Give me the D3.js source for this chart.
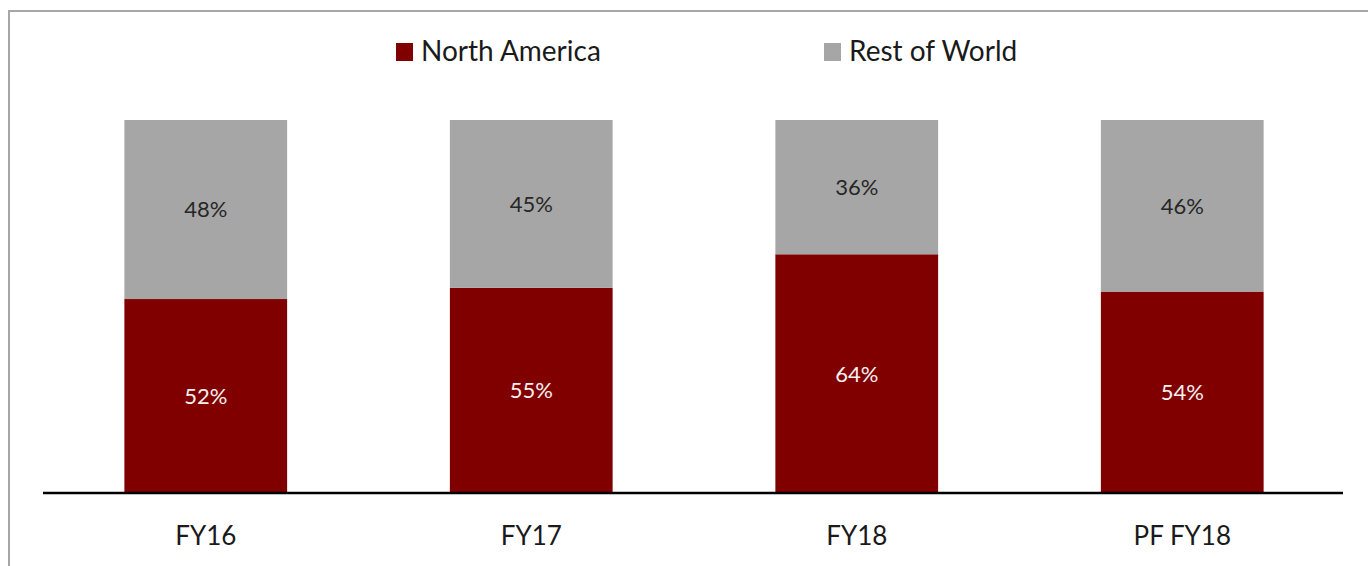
<!DOCTYPE html>
<html>
<head>
<meta charset="utf-8">
<script src="https://cdn.jsdelivr.net/npm/d3@7"></script>
<style>
  html, body { margin: 0; padding: 0; background: #fff; }
  svg { display: block; }
  text { font-family: Lato, "Open Sans", sans-serif; }
</style>
</head>
<body>
<svg id="chart" width="1368" height="566"></svg>
<script>
const categories = ["FY16", "FY17", "FY18", "PF FY18"];
const seriesNames = ["North America", "Rest of World"];
const northAmerica = [52, 55, 64, 54];
const restOfWorld = [48, 45, 36, 46];

const W = 1368, H = 566;
const svg = d3.select("#chart");

// frame
svg.append("rect")
  .attr("x", 9).attr("y", 11)
  .attr("width", W + 20).attr("height", H + 20)
  .attr("fill", "none").attr("stroke", "#a6a6a6").attr("stroke-width", 2);

const x = d3.scaleBand().domain(categories).range([43, 1345])
  .paddingInner(0.5).paddingOuter(0.25);
const y = d3.scaleLinear().domain([0, 100]).range([493, 120]);

const colors = { "North America": "#800000", "Rest of World": "#a6a6a6" };
const labelColors = { "North America": "#f7f0f0", "Rest of World": "#262626" };

const rows = categories.map((c, i) => ({ cat: c, "North America": northAmerica[i], "Rest of World": restOfWorld[i] }));
const stacked = d3.stack().keys(seriesNames)(rows);

const g = svg.append("g");
stacked.forEach(s => {
  const key = s.key;
  g.selectAll(null).data(s).enter().append("rect")
    .attr("x", d => x(d.data.cat))
    .attr("width", x.bandwidth())
    .attr("y", d => y(d[1]))
    .attr("height", d => y(d[0]) - y(d[1]))
    .attr("fill", colors[key]);
  g.selectAll(null).data(s).enter().append("text")
    .attr("x", d => x(d.data.cat) + x.bandwidth() / 2)
    .attr("y", d => (y(d[0]) + y(d[1])) / 2)
    .attr("dy", "0.36em")
    .attr("text-anchor", "middle")
    .attr("font-size", 22)
    .attr("fill", labelColors[key])
    .text(d => (d[1] - d[0]) + "%");
});

// x axis
const xAxis = svg.append("g")
  .attr("transform", "translate(0,493)")
  .call(d3.axisBottom(x).tickSize(0).tickPadding(0));
xAxis.select(".domain").attr("d", "M43,0H1343").attr("stroke", "#000").attr("stroke-width", 2.5);
xAxis.selectAll(".tick text")
  .attr("y", 52).attr("dy", 0)
  .attr("font-size", 26).attr("fill", "#1a1a1a")
  .style("font-family", "Lato, 'Open Sans', sans-serif");

// legend
const legendPos = [{ sx: 396, tx: 421 }, { sx: 824, tx: 849 }];
const legend = svg.append("g");
seriesNames.forEach((name, i) => {
  legend.append("rect")
    .attr("x", legendPos[i].sx).attr("y", 43)
    .attr("width", 17).attr("height", 18)
    .attr("fill", colors[name]);
  legend.append("text")
    .attr("x", legendPos[i].tx).attr("y", 61)
    .attr("font-size", 28).attr("fill", "#1a1a1a")
    .text(name);
});
</script>
</body>
</html>
